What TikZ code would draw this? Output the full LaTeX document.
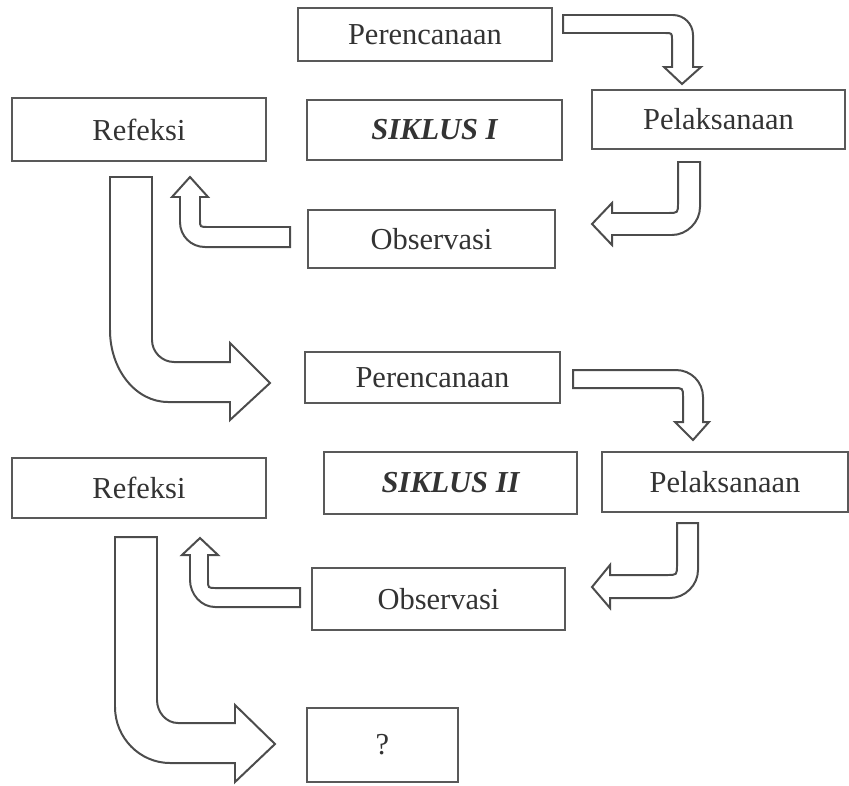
\documentclass[tikz,border=0pt]{standalone}
\usepackage{fontspec}
\setmainfont{Liberation Serif}

\tikzset{
  box/.style={draw=black!65, line width=2.4pt, minimum width=7.6cm, minimum height=1.8cm,
    inner sep=0pt, text=black!80, font=\fontsize{26}{30}\selectfont},
  fatarrow/.style={draw=black!70, line width=1.7pt, fill=white, line join=miter},
}

\begin{document}
\begin{tikzpicture}[x=0.03cm,y=-0.03cm]
    \useasboundingbox (0,0) rectangle (849,785);

    % siklus I
    \node[box, minimum width=7.62cm, minimum height=1.59cm] (per1) at (425,34.5) {Perencanaan};
    \node[box, minimum width=7.59cm, minimum height=1.77cm] (pel1) at (718.5,119.5) {Pelaksanaan};
    \node[box, minimum width=7.65cm] (sik1) at (434.5,130) {\bfseries\itshape SIKLUS I};
    \node[box, minimum width=7.62cm, minimum height=1.89cm] (ref1) at (139,129.5) {Refeksi};
    \node[box, minimum width=7.41cm, minimum height=1.74cm] (obs1) at (431.5,239) {Observasi};

    % siklus II
    \node[box, minimum width=7.65cm, minimum height=1.53cm] (per2) at (432.5,377.5) {Perencanaan};
    \node[box, minimum width=7.38cm] (pel2) at (725,482) {Pelaksanaan};
    \node[box, minimum width=7.59cm, minimum height=1.86cm] (sik2) at (450.5,483) {\bfseries\itshape SIKLUS II};
    \node[box, minimum width=7.62cm] (ref2) at (139,488) {Refeksi};
    \node[box, minimum width=7.59cm, minimum height=1.86cm] (obs2) at (438.5,599) {Observasi};
    \node[box, minimum width=4.53cm, minimum height=2.22cm] (next) at (382.5,745) {?};

    % block arrows, siklus I
    \draw[fatarrow] (563,15) -- (673,15) .. controls (684,15) and (693,24) .. (693,35) -- (693,67) -- (701,67)
        -- (682,84) -- (664,67) -- (672,67) -- (672,40) .. controls (672,33) .. (665,33) -- (563,33) -- cycle;
    \draw[fatarrow] (678,162) -- (700,162) -- (700,207) .. controls (700,222) and (687,235) .. (672,235) -- (612,235)
        -- (612,245) -- (592,224) -- (612,203) -- (612,213) -- (668,213) .. controls (678,213) .. (678,203) -- cycle;
    \draw[fatarrow] (290,227) -- (208,227) .. controls (200,227) .. (200,220) -- (200,197) -- (208,197)
        -- (190,177) -- (172,197) -- (180,197) -- (180,222) .. controls (180,236) and (191,247) .. (205,247) -- (290,247) -- cycle;
    \draw[fatarrow] (110,177) -- (152,177) -- (152,340) .. controls (152,352) and (162,362) .. (174,362) -- (230,362)
        -- (230,343) -- (270,383) -- (230,420) -- (230,402) -- (168,402) .. controls (136,402) and (110,370) .. (110,330) -- cycle;

    % block arrows, siklus II
    \draw[fatarrow] (573,370) -- (676,370) .. controls (691,370) and (703,382) .. (703,397) -- (703,422) -- (709,422)
        -- (693,440) -- (675,422) -- (683,422) -- (683,397) .. controls (683,388) .. (673,388) -- (573,388) -- cycle;
    \draw[fatarrow] (677,523) -- (698,523) -- (698,570) .. controls (698,585) and (685,598) .. (670,598) -- (610,598)
        -- (610,608) -- (592,587) -- (610,565) -- (610,575) -- (667,575) .. controls (677,575) .. (677,565) -- cycle;
    \draw[fatarrow] (300,588) -- (216,588) .. controls (208,588) .. (208,580) -- (208,555) -- (218,555)
        -- (200,538) -- (182,555) -- (190,555) -- (190,580) .. controls (190,594) and (201,607) .. (215,607) -- (300,607) -- cycle;
    \draw[fatarrow] (115,537) -- (157,537) -- (157,700) .. controls (157,712) and (166,723) .. (178,723) -- (235,723)
        -- (235,705) -- (275,744) -- (235,782) -- (235,763) -- (170,763) .. controls (140,763) and (115,738) .. (115,707) -- cycle;
\end{tikzpicture}
\end{document}
